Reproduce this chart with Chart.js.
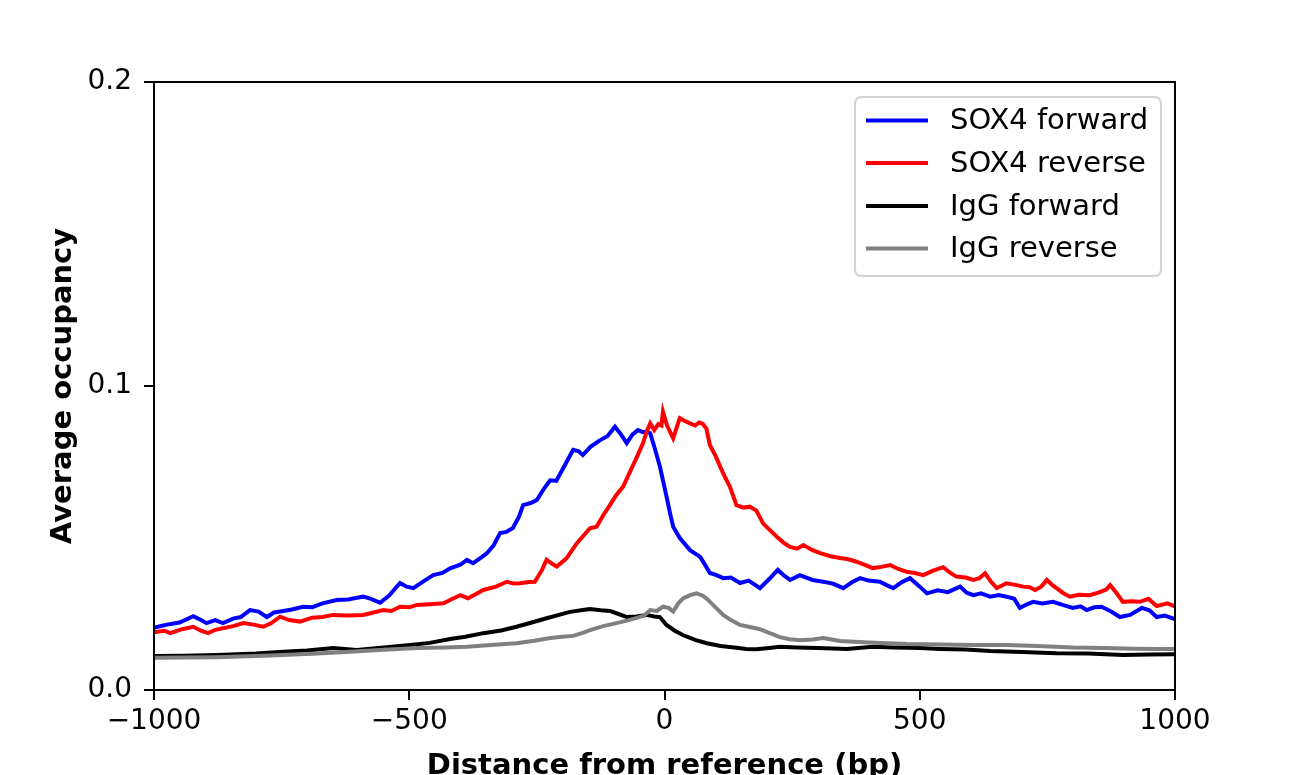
<!DOCTYPE html>
<html>
<head>
<meta charset="utf-8">
<script src="https://cdn.jsdelivr.net/npm/chart.js@4/dist/chart.umd.min.js"></script>
<style>
  html, body { margin: 0; padding: 0; background: #ffffff; }
  #wrap { width: 1298px; height: 775px; }
</style>
</head>
<body>
<div id="wrap"><canvas id="c" width="1298" height="775"></canvas></div>
<script>
// ---- Data ----
const seriesLabels = ["SOX4 forward", "SOX4 reverse", "IgG forward", "IgG reverse"];
const seriesColors = ["#0000ff", "#ff0000", "#000000", "#808080"];
const xTicks = [-1000, -500, 0, 500, 1000];
const yTicks = [0.0, 0.1, 0.2];

const sox4FwdX = [-1000,-975,-950,-923,-905,-897,-880,-865,-845,-830,-812,-795,-779,-765,-747,-730,-708,-690,-670,-642,-620,-600,-590,-575,-557,-540,-518,-505,-492,-470,-453,-435,-420,-400,-387,-375,-360,-348,-335,-322,-310,-297,-285,-277,-262,-250,-237,-224,-212,-195,-179,-168,-160,-145,-126,-112,-97,-85,-74,-63,-52,-42,-35,-28,-20,-9,4,11,17,30,50,70,89,102,115,130,148,165,187,205,222,235,246,265,290,311,330,350,368,383,400,422,435,448,465,481,500,514,535,555,579,592,605,620,638,655,670,685,696,710,722,740,761,780,800,815,827,842,856,875,892,912,935,950,964,980,1000];
const sox4FwdY = [0.0205,0.0215,0.0222,0.0243,0.0228,0.0220,0.0230,0.0220,0.0235,0.0240,0.0263,0.0258,0.0240,0.0255,0.0260,0.0265,0.0274,0.0272,0.0285,0.0296,0.0298,0.0304,0.0307,0.0300,0.0287,0.0310,0.0352,0.0340,0.0335,0.0360,0.0378,0.0385,0.0400,0.0412,0.0428,0.0417,0.0435,0.0450,0.0475,0.0516,0.0520,0.0533,0.0570,0.0608,0.0615,0.0625,0.0660,0.0690,0.0688,0.0740,0.0790,0.0785,0.0773,0.0800,0.0822,0.0835,0.0866,0.0840,0.0812,0.0840,0.0855,0.0848,0.0850,0.0845,0.0800,0.0735,0.0636,0.0580,0.0537,0.0500,0.0460,0.0438,0.0385,0.0378,0.0368,0.0370,0.0352,0.0360,0.0335,0.0365,0.0395,0.0375,0.0362,0.0378,0.0362,0.0356,0.0350,0.0335,0.0355,0.0368,0.0360,0.0356,0.0345,0.0335,0.0355,0.0368,0.0340,0.0318,0.0328,0.0322,0.0340,0.0320,0.0312,0.0318,0.0307,0.0312,0.0307,0.0300,0.0270,0.0282,0.0290,0.0285,0.0290,0.0280,0.0270,0.0275,0.0263,0.0272,0.0274,0.0258,0.0240,0.0247,0.0270,0.0262,0.0240,0.0245,0.0233];

const sox4RevX = [-1000,-980,-968,-945,-923,-908,-894,-880,-865,-845,-825,-805,-786,-770,-753,-735,-714,-690,-670,-649,-620,-590,-570,-551,-535,-518,-500,-485,-460,-433,-415,-400,-385,-370,-355,-330,-309,-295,-283,-265,-254,-240,-231,-220,-211,-192,-172,-146,-133,-120,-107,-95,-81,-67,-54,-42,-35,-28,-20,-12,-6,-3,5,17,25,30,40,50,60,68,75,82,89,100,109,120,128,141,155,167,180,193,207,220,233,246,260,272,290,305,325,344,360,376,395,408,425,442,458,474,490,507,525,546,560,572,590,605,617,628,640,651,670,690,702,715,726,738,749,760,768,780,794,812,833,850,865,873,885,898,915,931,948,964,985,1000];
const sox4RevY = [0.0190,0.0195,0.0187,0.0200,0.0208,0.0195,0.0187,0.0198,0.0203,0.0210,0.0220,0.0215,0.0208,0.0220,0.0241,0.0230,0.0225,0.0238,0.0240,0.0247,0.0245,0.0247,0.0255,0.0263,0.0260,0.0274,0.0272,0.0280,0.0282,0.0285,0.0300,0.0312,0.0302,0.0315,0.0329,0.0340,0.0356,0.0350,0.0351,0.0355,0.0356,0.0395,0.0428,0.0415,0.0406,0.0433,0.0482,0.0532,0.0537,0.0575,0.0608,0.0640,0.0669,0.0720,0.0767,0.0812,0.0850,0.0877,0.0855,0.0875,0.0870,0.0915,0.0870,0.0828,0.0870,0.0894,0.0885,0.0877,0.0870,0.0880,0.0875,0.0860,0.0805,0.0770,0.0735,0.0695,0.0669,0.0608,0.0600,0.0603,0.0590,0.0548,0.0525,0.0504,0.0485,0.0471,0.0465,0.0477,0.0460,0.0450,0.0440,0.0434,0.0430,0.0422,0.0410,0.0401,0.0405,0.0411,0.0398,0.0389,0.0385,0.0378,0.0392,0.0404,0.0385,0.0373,0.0370,0.0362,0.0368,0.0384,0.0355,0.0335,0.0351,0.0345,0.0340,0.0338,0.0329,0.0340,0.0362,0.0345,0.0335,0.0320,0.0307,0.0313,0.0312,0.0320,0.0330,0.0345,0.0320,0.0290,0.0292,0.0290,0.0300,0.0276,0.0285,0.0275];

const iggFwdX = [-1000,-940,-877,-800,-747,-700,-649,-603,-550,-498,-460,-420,-390,-355,-320,-290,-260,-231,-205,-185,-160,-146,-125,-107,-90,-74,-55,-35,-20,-9,4,20,37,60,83,110,141,160,180,205,226,260,300,357,408,450,500,540,590,638,700,768,830,898,950,1000];
const iggFwdY = [0.0112,0.0113,0.0115,0.0120,0.0126,0.0130,0.0138,0.0132,0.0140,0.0148,0.0155,0.0168,0.0175,0.0187,0.0196,0.0208,0.0222,0.0236,0.0248,0.0257,0.0263,0.0266,0.0262,0.0260,0.0250,0.0240,0.0242,0.0247,0.0242,0.0240,0.0214,0.0195,0.0180,0.0165,0.0154,0.0145,0.0139,0.0135,0.0134,0.0138,0.0142,0.0140,0.0138,0.0135,0.0142,0.0140,0.0138,0.0135,0.0133,0.0128,0.0125,0.0121,0.0120,0.0115,0.0117,0.0118];

const iggRevX = [-1000,-940,-877,-800,-747,-680,-616,-550,-485,-430,-387,-340,-290,-255,-224,-200,-179,-160,-146,-120,-94,-70,-54,-40,-28,-15,-3,8,17,27,37,50,63,75,83,100,115,130,148,165,187,205,226,245,265,290,311,330,344,400,474,540,605,670,730,800,860,920,964,1000];
const iggRevY = [0.0106,0.0107,0.0108,0.0112,0.0115,0.0120,0.0126,0.0132,0.0138,0.0140,0.0142,0.0148,0.0154,0.0162,0.0171,0.0175,0.0178,0.0188,0.0197,0.0210,0.0220,0.0230,0.0237,0.0245,0.0263,0.0260,0.0274,0.0270,0.0258,0.0285,0.0302,0.0312,0.0318,0.0310,0.0300,0.0272,0.0247,0.0230,0.0214,0.0208,0.0200,0.0188,0.0174,0.0167,0.0164,0.0166,0.0171,0.0165,0.0161,0.0156,0.0151,0.0150,0.0148,0.0148,0.0145,0.0140,0.0138,0.0136,0.0135,0.0135];

// ---- Build datasets ----
function pairs(xs, ys) { return xs.map((x, i) => ({ x: x, y: ys[i] })); }
const allX = [sox4FwdX, sox4RevX, iggFwdX, iggRevX];
const allY = [sox4FwdY, sox4RevY, iggFwdY, iggRevY];
const datasets = seriesLabels.map((lab, i) => ({
  label: lab,
  data: pairs(allX[i], allY[i]),
  borderColor: seriesColors[i],
  backgroundColor: seriesColors[i],
  borderWidth: 4,
  pointRadius: 0,
  tension: 0,
  fill: false
}));
// draw order: later datasets on top (matplotlib order)
datasets.forEach((d, i) => { d.order = seriesLabels.length - i; });

const FONT = "'DejaVu Sans', 'Liberation Sans', sans-serif";

const framePlugin = {
  id: 'frame',
  afterDatasetsDraw(chart) {
    const { ctx, chartArea: a } = chart;
    ctx.save();
    ctx.strokeStyle = '#000';
    ctx.lineWidth = 2;
    ctx.strokeRect(a.left, a.top, a.right - a.left, a.bottom - a.top);
    ctx.restore();
  }
};

const legendPlugin = {
  id: 'mplLegend',
  afterDraw(chart) {
    const ctx = chart.ctx;
    const bx = 855, by = 97, bw = 306, bh = 179, r = 7;
    ctx.save();
    ctx.beginPath();
    ctx.moveTo(bx + r, by);
    ctx.lineTo(bx + bw - r, by);
    ctx.quadraticCurveTo(bx + bw, by, bx + bw, by + r);
    ctx.lineTo(bx + bw, by + bh - r);
    ctx.quadraticCurveTo(bx + bw, by + bh, bx + bw - r, by + bh);
    ctx.lineTo(bx + r, by + bh);
    ctx.quadraticCurveTo(bx, by + bh, bx, by + bh - r);
    ctx.lineTo(bx, by + r);
    ctx.quadraticCurveTo(bx, by, bx + r, by);
    ctx.closePath();
    ctx.fillStyle = 'rgba(255,255,255,0.8)';
    ctx.fill();
    ctx.strokeStyle = '#d3d3d3';
    ctx.lineWidth = 2;
    ctx.stroke();
    const rows = [120.5, 163, 206, 248.5];
    chart.data.datasets.forEach((d, i) => {
      const y = rows[i];
      ctx.beginPath();
      ctx.moveTo(866, y);
      ctx.lineTo(928, y);
      ctx.strokeStyle = d.borderColor;
      ctx.lineWidth = 4;
      ctx.stroke();
      ctx.fillStyle = '#000';
      ctx.font = '29px ' + FONT;
      ctx.textBaseline = 'middle';
      ctx.textAlign = 'left';
      ctx.fillText(d.label, 950, y + 1);
    });
    ctx.restore();
  }
};

new Chart(document.getElementById('c'), {
  type: 'line',
  data: { datasets: datasets },
  plugins: [framePlugin, legendPlugin],
  options: {
    responsive: false,
    animation: false,
    devicePixelRatio: 1,
    layout: { padding: { left: 51, top: 82, right: 123, bottom: 0 } },
    plugins: { legend: { display: false }, tooltip: { enabled: false } },
    scales: {
      x: {
        type: 'linear',
        min: xTicks[0],
        max: xTicks[xTicks.length - 1],
        afterBuildTicks(scale) { scale.ticks = xTicks.map(v => ({ value: v })); },
        afterFit(scale) { scale.height = 85; },
        ticks: {
          color: '#000',
          font: { family: FONT, size: 28 },
          padding: 5,
          maxRotation: 0,
          autoSkip: false,
          callback: v => (v < 0 ? '\u2212' + Math.abs(v) : String(v))
        },
        grid: { display: true, drawOnChartArea: false, drawTicks: true, tickLength: 10, color: '#000', lineWidth: 2 },
        border: { display: true, color: '#000', width: 2 },
        title: {
          display: true,
          text: 'Distance from reference (bp)',
          color: '#000',
          font: { family: FONT, size: 29, weight: 'bold', lineHeight: 0.6 },
          padding: { top: 0, bottom: 0 }
        }
      },
      y: {
        type: 'linear',
        min: yTicks[0],
        max: yTicks[yTicks.length - 1],
        afterBuildTicks(scale) { scale.ticks = yTicks.map(v => ({ value: v })); },
        afterFit(scale) { scale.width = 103; },
        ticks: {
          color: '#000',
          font: { family: FONT, size: 28 },
          padding: 12,
          autoSkip: false,
          callback: v => Number(v).toFixed(1)
        },
        grid: { display: true, drawOnChartArea: false, drawTicks: true, tickLength: 10, color: '#000', lineWidth: 2 },
        border: { display: true, color: '#000', width: 2 },
        title: {
          display: true,
          text: 'Average occupancy',
          color: '#000',
          font: { family: FONT, size: 29, weight: 'bold', lineHeight: 0.83 },
          padding: { top: 0, bottom: 0 }
        }
      }
    }
  }
});
</script>
</body>
</html>
